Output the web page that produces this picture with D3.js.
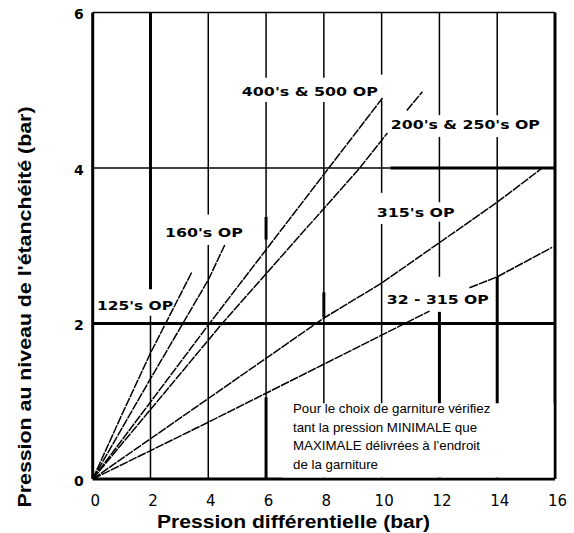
<!DOCTYPE html>
<html><head><meta charset="utf-8">
<script src="https://cdn.jsdelivr.net/npm/d3@7"></script>
<style>
html,body{margin:0;padding:0;background:#fff;}
svg{display:block;}
</style></head>
<body>
<script>
// ---- data ----
const xTicks = [0,2,4,6,8,10,12,14,16];
const yTicks = [0,2,4,6];
const s125 = [[0,0],[1,0.82],[2,1.62],[3.43,2.66]];
const s160 = [[0,0],[2,1.29],[4,2.56],[4.57,3.01]];
const s400 = [[0,0],[4,1.98],[8.17,4.0],[10.03,4.9]];
const s200 = [[0,0],[4.48,2.0],[9.24,4.0],[10.2,4.45],null,[10.87,4.74],[11.41,4.98]];
const s315 = [[0,0],[8,2.07],[10,2.52],[14,3.56],[15.56,4.0]];
const s32  = [[0,0],[4,0.73],[10,1.85],[11.66,2.16],null,[13.04,2.46],[14,2.6],[15.9,2.98]];
const seriesNames = ["125's OP","160's OP","400's & 500 OP","200's & 250's OP","315's OP","32 - 315 OP"];
const seriesData = [s125,s160,s400,s200,s315,s32];
// label anchors (data units): [x, y]
const labelAnchors = [[0.15,2.17],[2.5,3.11],[5.16,4.93],[10.32,4.50],[9.83,3.37],[10.18,2.25]];
const labelWidths = [76,78,136,149,78,102];
// grid segments in data units: [x or y, from, to]
const vThin = [[2,2.10,0],[4,6,3.40],[4,3.01,0],[6,6,5.16],[6,4.85,0],[8,6,5.16],[8,4.85,0],
               [10,6,5.2],[10,4.87,3.68],[10,3.28,0],[12,6,4.68],[12,4.40,3.56],[12,3.31,2.60],
               [14,6,4.68],[14,4.40,2.60]];
const vThick = [[0,6,0],[2,6,2.44],[6,3.37,3.08],[6,1.05,0],[8,2.4,2.08],[12,2.15,0],[14,2.60,0],[16,6,0]];
const hThin = [[6,0,16],[4,0,10.3]];
const hThick = [[4,10.3,16],[2,0,16],[0,0,16]];
const noteLines = ["Pour le choix de garniture vérifiez","tant la pression MINIMALE que","MAXIMALE délivrées à l’endroit","de la garniture"];
const xTitle = "Pression différentielle (bar)";
const yTitle = "Pression au niveau de l'étanchéité (bar)";

// ---- drawing ----
const W=574,H=533;
const svg=d3.select("body").append("svg").attr("width",W).attr("height",H);
const x=d3.scaleLinear().domain([0,16]).range([92.7,555]);
const y=d3.scaleLinear().domain([0,6]).range([479,12.5]);

const g=svg.append("g");
function vseg(arr,w){
  g.selectAll(null).data(arr).enter().append("line")
   .attr("x1",d=>x(d[0])).attr("x2",d=>x(d[0]))
   .attr("y1",d=>y(d[1])).attr("y2",d=>y(d[2]))
   .attr("stroke","#000").attr("stroke-width",w);
}
function hseg(arr,w){
  g.selectAll(null).data(arr).enter().append("line")
   .attr("y1",d=>y(d[0])).attr("y2",d=>y(d[0]))
   .attr("x1",d=>x(d[1])).attr("x2",d=>x(d[2]))
   .attr("stroke","#000").attr("stroke-width",w);
}
vseg(vThin,1.5); hseg(hThin,1.5);
vseg(vThick,3); hseg(hThick,2.8);

// series
const line=d3.line().defined(d=>d!==null).x(d=>x(d[0])).y(d=>y(d[1]));
g.selectAll(".s").data(seriesData).enter().append("path")
 .attr("d",line).attr("fill","none").attr("stroke","#000")
 .attr("stroke-width",1.5).attr("stroke-dasharray","9,1");

// note box
const nb=svg.append("g");
nb.append("rect").attr("x",283).attr("y",y(1.0)+2).attr("width",x(16)-1.5-283).attr("height",y(0)-1.5-(y(1.0)+2)).attr("fill","#fff");
nb.selectAll("text").data(noteLines).enter().append("text")
 .attr("x",293).attr("y",(d,i)=>413+i*18.5)
 .attr("font-family","Liberation Sans, Arial, sans-serif").attr("font-size",13.3)
 .text(d=>d);

// series labels
svg.selectAll(".lbl").data(seriesNames).enter().append("text")
 .attr("x",(d,i)=>x(labelAnchors[i][0])).attr("y",(d,i)=>y(labelAnchors[i][1]))
 .attr("font-family","DejaVu Sans, sans-serif").attr("font-weight","bold")
 .attr("font-size",13).attr("textLength",(d,i)=>labelWidths[i]).attr("lengthAdjust","spacingAndGlyphs")
 .text(d=>d);

// axes (labels only)
const ax=svg.append("g").attr("transform",`translate(0,${y(0)})`)
 .call(d3.axisBottom(x).tickValues(xTicks).tickSize(0).tickPadding(16).tickFormat(d3.format("d")));
ax.select(".domain").remove();
ax.selectAll("text").attr("font-family","DejaVu Sans, sans-serif").attr("font-size",15).attr("dx",2);
const ay=svg.append("g").attr("transform",`translate(${x(0)},0)`)
 .call(d3.axisLeft(y).tickValues(yTicks).tickSize(0).tickPadding(9).tickFormat(d3.format("d")));
ay.select(".domain").remove();
ay.selectAll("text").attr("font-family","DejaVu Sans, sans-serif").attr("font-size",14).attr("font-weight","bold").attr("dy","0.45em");

// titles
svg.append("text").attr("x",(157+430)/2).attr("y",528).attr("text-anchor","middle")
 .attr("font-family","Liberation Sans, Arial, sans-serif").attr("font-weight","bold").attr("font-size",17.5)
 .attr("textLength",273).attr("lengthAdjust","spacingAndGlyphs")
 .text(xTitle);
svg.append("text").attr("transform","translate(31,307) rotate(-90)").attr("text-anchor","middle")
 .attr("font-family","Liberation Sans, Arial, sans-serif").attr("font-weight","bold").attr("font-size",17.5)
 .attr("textLength",401).attr("lengthAdjust","spacingAndGlyphs")
 .text(yTitle);
</script>
</body></html>
